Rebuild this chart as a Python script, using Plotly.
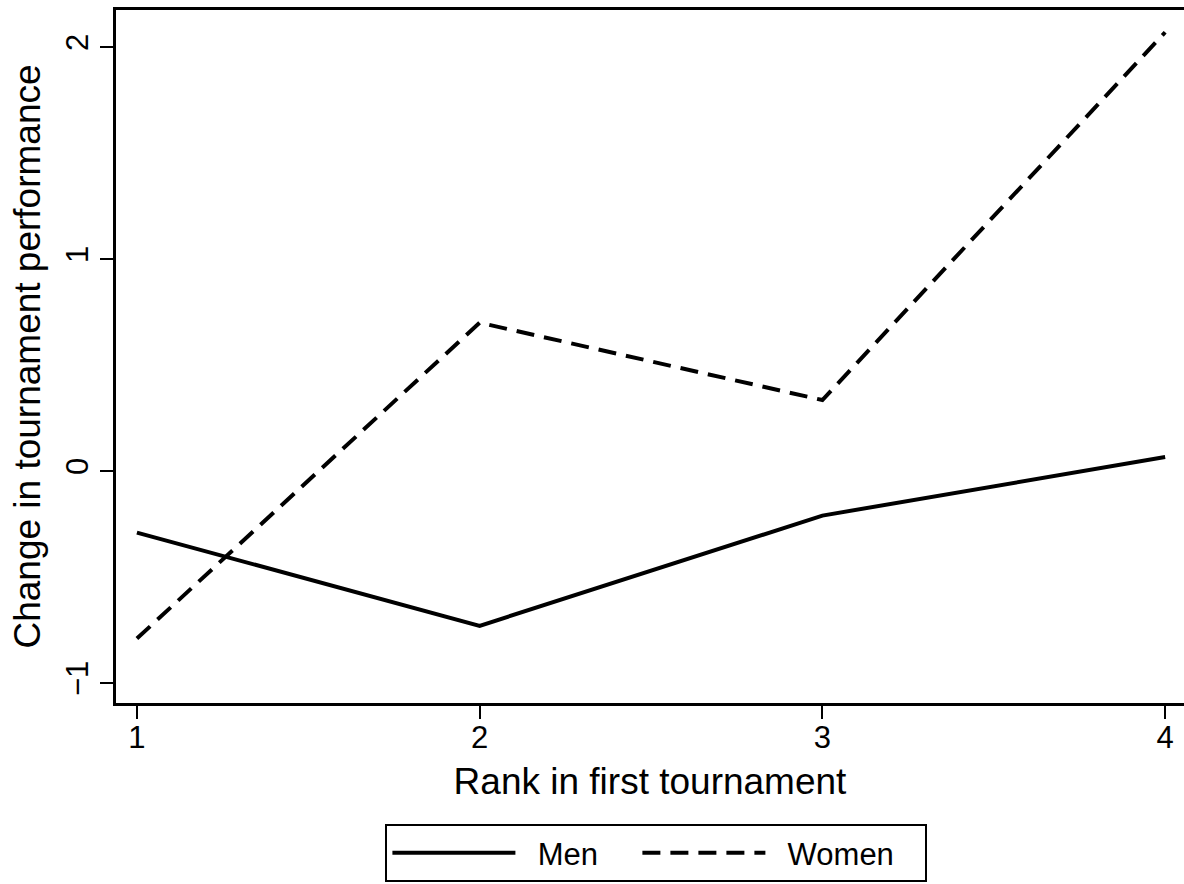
import plotly.graph_objects as go

ranks = [1, 2, 3, 4]
men = [-0.29, -0.73, -0.21, 0.066]
women = [-0.79, 0.70, 0.335, 2.07]
y_ticks = [-1, 0, 1, 2]
x_ticks = [1, 2, 3, 4]

FONT = "Liberation Sans, Arial, Helvetica, sans-serif"
NB = "\u00a0"

fig = go.Figure()
fig.add_trace(go.Scatter(x=ranks, y=men, mode="lines", name=NB * 2 + "Men" + NB * 4,
                         line=dict(color="black", width=4)))
fig.add_trace(go.Scatter(x=ranks, y=women, mode="lines", name=NB * 2 + "Women" + NB * 3,
                         line=dict(color="black", width=4, dash="18px,10px")))

fig.update_layout(
    width=1184, height=884,
    margin=dict(l=116, r=0, t=10, b=181),
    paper_bgcolor="white", plot_bgcolor="white",
    font=dict(family=FONT, color="black"),
    showlegend=True,
    legend=dict(orientation="h", x=0.506, xanchor="center", y=-0.1746, yanchor="top",
                bordercolor="black", borderwidth=2, bgcolor="white",
                font=dict(size=31, family=FONT), itemwidth=123),
    xaxis=dict(range=[0.939, 4.055], tickvals=x_ticks, ticks="outside", ticklen=13,
               tickwidth=2, tickcolor="black", showline=True, linewidth=3,
               linecolor="black", mirror=True, showgrid=False, zeroline=False,
               ticklabelstandoff=-8,
               tickfont=dict(size=31, family=FONT, color="black"),
               title=dict(text="Rank in first tournament", font=dict(size=37), standoff=14)),
    yaxis=dict(range=[-1.094, 2.175], tickvals=y_ticks, ticktext=["\u22121", "0", "1", "2"],
               ticks="outside", ticklen=13, tickwidth=2, tickcolor="black", tickangle=-90,
               showline=True, linewidth=3, linecolor="black", showgrid=False, zeroline=False,
               tickfont=dict(size=31, family=FONT, color="black"),
               title=dict(text="Change in tournament performance", font=dict(size=37), standoff=8)),
)

fig.write_html("out.html")
